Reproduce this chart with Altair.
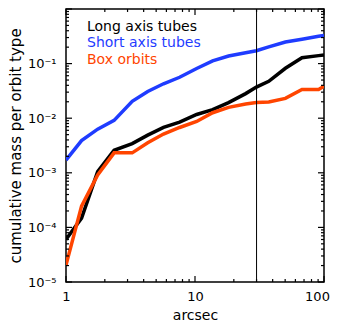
import altair as alt
import pandas as pd

# ---- data ----
x_arcsec = [1.0, 1.32, 1.76, 2.36, 3.26, 4.3, 5.7, 7.6, 10.3, 13.7, 18.2, 24.7, 29.9, 37.3, 50.2, 67.5, 90.8, 100.0]
long_axis = [6.0e-5, 1.48e-4, 1.05e-3, 2.59e-3, 3.43e-3, 4.9e-3, 6.8e-3, 8.5e-3, 1.17e-2, 1.43e-2,
             1.93e-2, 2.82e-2, 3.72e-2, 4.74e-2, 8.2e-2, 0.128, 0.14, 0.144]
short_axis = [1.71e-3, 3.89e-3, 6.31e-3, 9.12e-3, 2.04e-2, 3.09e-2, 4.27e-2, 5.62e-2, 8.13e-2, 0.112,
              0.138, 0.158, 0.172, 0.202, 0.249, 0.279, 0.316, 0.329]
box_orbits = [2.04e-5, 2.45e-4, 9.1e-4, 2.32e-3, 2.32e-3, 3.55e-3, 5.13e-3, 6.76e-3, 8.71e-3, 1.26e-2,
              1.58e-2, 1.82e-2, 1.93e-2, 1.98e-2, 2.31e-2, 3.36e-2, 3.36e-2, 3.85e-2]
series_names = ["Long axis tubes", "Short axis tubes", "Box orbits"]
series_colors = ["#000000", "#1f3cff", "#ff4500"]
vline_x = [30]

x_major = [1, 10, 100]
x_minor = [2, 3, 4, 5, 6, 7, 8, 9, 20, 30, 40, 50, 60, 70, 80, 90]
y_major = [1e-5, 1e-4, 1e-3, 1e-2, 1e-1, 1.0]
y_labels = [1e-5, 1e-4, 1e-3, 1e-2, 1e-1]
y_minor = [m * 10.0 ** e for e in range(-5, 0) for m in range(2, 10)]

FONT = "DejaVu Sans"
X_LO, X_HI = 1, 100
Y_LO, Y_HI = 1e-5, 1.0
# tick lengths expressed as ratios on the log scales (~6 px major, ~3 px minor)
XT_MAJ, XT_MIN = 1.113, 1.055
YT_MAJ, YT_MIN = 1.283, 1.133

rows = []
for name, vals in zip(series_names, [long_axis, short_axis, box_orbits]):
    for xv, yv in zip(x_arcsec, vals):
        rows.append({"series": name, "x": xv, "y": yv})
df = pd.DataFrame(rows)

xs = alt.Scale(type="log", domain=[X_LO, X_HI], nice=False)
ys = alt.Scale(type="log", domain=[Y_LO, Y_HI], nice=False)

xaxis = alt.Axis(
    values=x_major, format="d", title="arcsec", ticks=False, domain=False,
    grid=False, labelPadding=8, labelFontSize=13, titleFontSize=14, titlePadding=5,
    labelFlush=False, labelOverlap=False,
    labelOffset={"condition": {"test": "datum.value >= 100", "value": -7}, "value": 0})
yaxis = alt.Axis(
    values=y_labels, title="cumulative mass per orbit type", ticks=False,
    domain=False, grid=False, labelPadding=10, labelFontSize=13, titleFontSize=15,
    titlePadding=4, labelFlush=False, labelOverlap=False,
    labelExpr="datum.value < 0.00005 ? '10⁻⁵' : datum.value < 0.0005 ? '10⁻⁴' : "
              "datum.value < 0.005 ? '10⁻³' : datum.value < 0.05 ? '10⁻²' : '10⁻¹'")


def X():
    return alt.X("x:Q", scale=xs, axis=xaxis)


def Y():
    return alt.Y("y:Q", scale=ys, axis=yaxis)


layers = []

# lines
for name, color in zip(series_names, series_colors):
    layers.append(alt.Chart(df[df.series == name]).mark_line(
        color=color, strokeWidth=3.5, clip=True).encode(x=X(), y=Y()))

# inward ticks along the four edges, from the tick-value lists
for vals, r in [(x_major, YT_MAJ), (x_minor, YT_MIN)]:
    d = pd.DataFrame({"x": vals})
    layers.append(alt.Chart(d).mark_rule(color="black", strokeWidth=1.2).encode(
        x=X(), y=alt.YDatum(Y_LO, scale=ys, axis=yaxis), y2=alt.Y2Datum(Y_LO * r)))
    layers.append(alt.Chart(d).mark_rule(color="black", strokeWidth=1.2).encode(
        x=X(), y=alt.YDatum(Y_HI, scale=ys, axis=yaxis), y2=alt.Y2Datum(Y_HI / r)))
for vals, r in [(y_major, XT_MAJ), (y_minor, XT_MIN)]:
    d = pd.DataFrame({"y": vals})
    layers.append(alt.Chart(d).mark_rule(color="black", strokeWidth=1.2).encode(
        y=Y(), x=alt.XDatum(X_LO, scale=xs, axis=xaxis), x2=alt.X2Datum(X_LO * r)))
    layers.append(alt.Chart(d).mark_rule(color="black", strokeWidth=1.2).encode(
        y=Y(), x=alt.XDatum(X_HI, scale=xs, axis=xaxis), x2=alt.X2Datum(X_HI / r)))

# vertical rule at 30 arcsec
layers.append(alt.Chart(pd.DataFrame({"x": vline_x})).mark_rule(
    color="black", strokeWidth=1).encode(x=X()))

# legend texts
for i, (name, color) in enumerate(zip(series_names, series_colors)):
    layers.append(alt.Chart(pd.DataFrame({"label": [name]})).mark_text(
        align="left", baseline="middle", fontSize=14, font=FONT, color=color,
        x=21, y=17.5 + 16.5 * i).encode(text="label:N"))

chart = alt.layer(*layers).properties(
    width=322, height=314, padding={"left": 0, "top": 0, "right": 0, "bottom": 0},
    autosize=alt.AutoSizeParams(type="fit", contains="padding")
).configure_view(stroke="black", strokeWidth=1.5).configure_axis(
    labelFont=FONT, titleFont=FONT, labelColor="black", titleColor="black",
    titleFontWeight="normal")

chart.save("out.html", embed_options={"renderer": "svg", "actions": False})
